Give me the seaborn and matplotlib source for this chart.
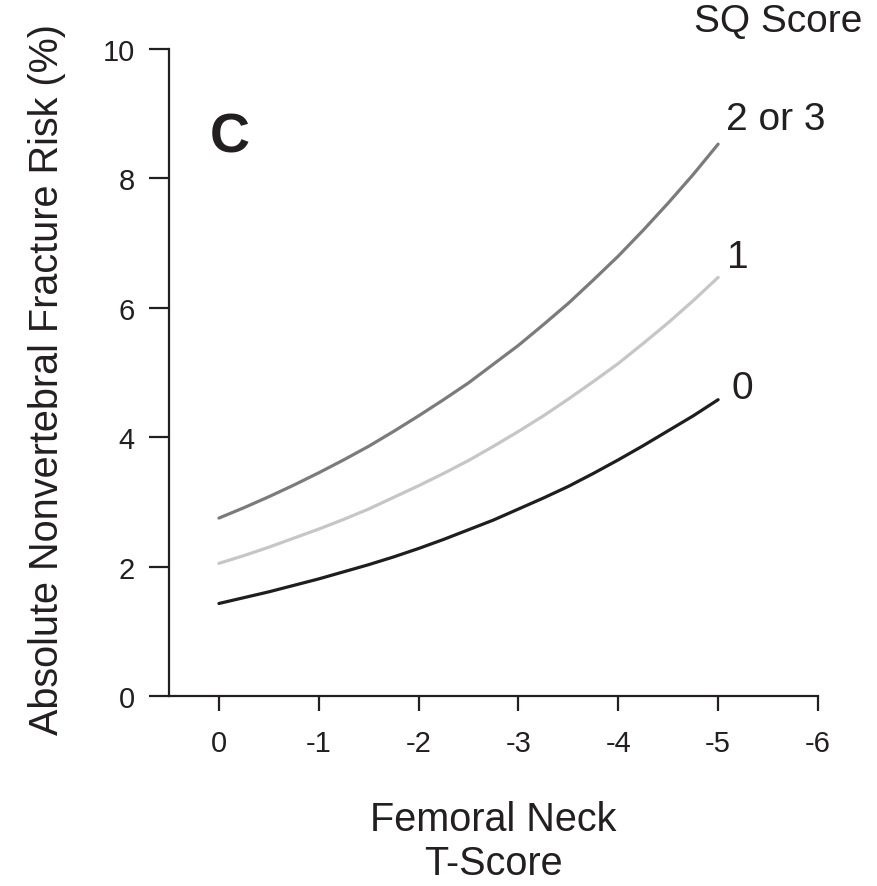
import numpy as np
import pandas as pd
import matplotlib
matplotlib.use("Agg")
import matplotlib.pyplot as plt
import seaborn as sns

# Femoral neck T-score (every quarter unit)
t_score = [0, -0.25, -0.5, -0.75, -1, -1.25, -1.5, -1.75, -2, -2.25, -2.5,
           -2.75, -3, -3.25, -3.5, -3.75, -4, -4.25, -4.5, -4.75, -5]

# Absolute nonvertebral fracture risk (%) per SQ score group
risk_sq0 = [1.43, 1.52, 1.61, 1.71, 1.81, 1.92, 2.03, 2.15, 2.28, 2.42, 2.57,
            2.72, 2.89, 3.06, 3.24, 3.44, 3.65, 3.87, 4.10, 4.33, 4.58]
risk_sq1 = [2.05, 2.17, 2.30, 2.44, 2.58, 2.73, 2.89, 3.07, 3.25, 3.44, 3.64,
            3.86, 4.09, 4.33, 4.59, 4.86, 5.14, 5.45, 5.77, 6.11, 6.47]
risk_sq23 = [2.75, 2.91, 3.08, 3.26, 3.45, 3.65, 3.86, 4.09, 4.33, 4.58, 4.84,
             5.13, 5.42, 5.74, 6.07, 6.43, 6.80, 7.20, 7.62, 8.06, 8.53]

groups = ["2 or 3", "1", "0"]
x_ticks = [0, -1, -2, -3, -4, -5, -6]
x_tick_labels = ["0", "-1", "-2", "-3", "-4", "-5", "-6"]
y_ticks = [0, 2, 4, 6, 8, 10]

ink = "#231f20"
palette = {"2 or 3": "#7b7b7b", "1": "#c6c6c6", "0": "#1e1e1e"}


def main():
    sns.set_style("ticks")
    plt.rcParams["font.family"] = ["Liberation Sans", "DejaVu Sans"]
    plt.rcParams["text.color"] = ink
    plt.rcParams["axes.labelcolor"] = ink
    plt.rcParams["xtick.color"] = ink
    plt.rcParams["ytick.color"] = ink

    df = pd.concat([
        pd.DataFrame({"t": t_score, "risk": risk_sq23, "sq": "2 or 3"}),
        pd.DataFrame({"t": t_score, "risk": risk_sq1, "sq": "1"}),
        pd.DataFrame({"t": t_score, "risk": risk_sq0, "sq": "0"}),
    ], ignore_index=True)

    fig = plt.figure(figsize=(8.77, 8.87), dpi=100)
    ax = fig.add_axes([0.1927, 0.2142, 0.7400, 0.7294])

    sns.lineplot(data=df, x="t", y="risk", hue="sq", hue_order=groups,
                 palette=palette, linewidth=2.3, legend=False, ax=ax)

    ax.set_xlim(0.5, -6)
    ax.set_ylim(0, 10)
    ax.set_xticks(x_ticks)
    ax.set_xticklabels(x_tick_labels)
    ax.set_yticks(y_ticks)
    sns.despine(ax=ax)
    for side in ["left", "bottom"]:
        ax.spines[side].set_linewidth(1.6)
        ax.spines[side].set_color(ink)
    ax.tick_params(axis="x", length=11, width=1.6, pad=13, labelsize=21)
    ax.tick_params(axis="y", length=14.5, width=1.6, pad=10, labelsize=21)

    ax.set_xlabel("Femoral Neck\nT-Score", fontsize=28.5, linespacing=1.22)
    ax.xaxis.set_label_coords(0.5, -0.16)
    ax.set_ylabel("Absolute Nonvertebral Fracture Risk (%)", fontsize=28.5)
    ax.yaxis.set_label_coords(-0.158, 0.49)

    # curve labels at the right end of each line
    ax.text(-5.08, 8.76, "2 or 3", fontsize=28, ha="left", va="baseline")
    ax.text(-5.09, 6.63, "1", fontsize=28, ha="left", va="baseline")
    ax.text(-5.13, 4.60, "0", fontsize=28, ha="left", va="baseline")
    ax.text(-4.76, 10.28, "SQ Score", fontsize=28, ha="left", va="baseline",
            clip_on=False)
    ax.text(0.09, 8.41, "C", fontsize=40, fontweight="bold", ha="left",
            va="baseline")

    fig.savefig("out.png", dpi=100)


if __name__ == "__main__":
    main()
